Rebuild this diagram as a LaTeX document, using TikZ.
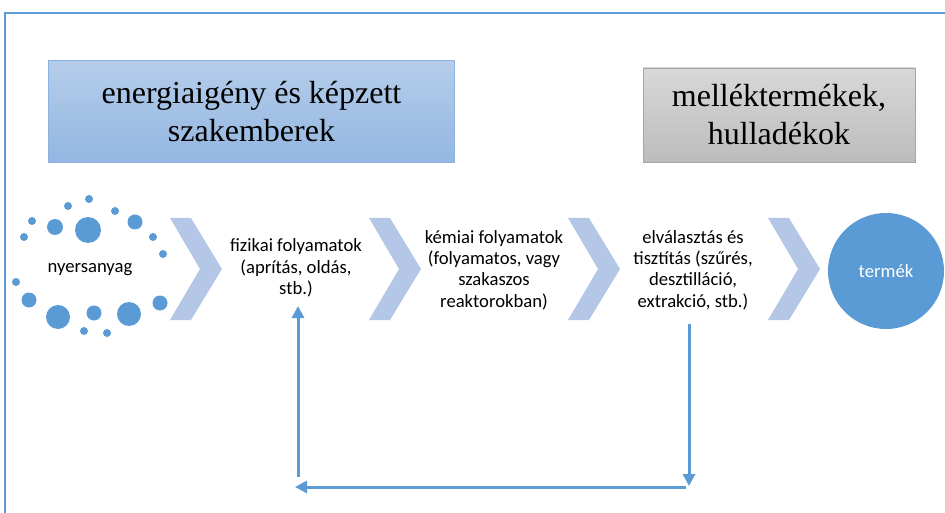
\documentclass[tikz,border=0pt]{standalone}
\usepackage{fontspec}
\setmainfont{Liberation Serif}
\newfontfamily\calfont{Carlito}
\usetikzlibrary{arrows.meta}
\definecolor{accent}{HTML}{5B9BD5}
\definecolor{chevfill}{HTML}{B4C7E7}
\definecolor{bluetop}{HTML}{B5CDEA}
\definecolor{bluebot}{HTML}{93B6E1}
\definecolor{blueedge}{HTML}{8CB3E0}
\definecolor{graytop}{HTML}{D8D8D8}
\definecolor{graybot}{HTML}{BCBCBC}
\definecolor{grayedge}{HTML}{A6A6A6}
\tikzset{
  step text/.style={font=\calfont\fontsize{14}{16}\selectfont, align=center},
  big box/.style={draw, line width=0.7pt, font=\fontsize{24}{28.5}\selectfont, align=center, inner sep=0pt},
  feedback/.style={accent, line width=2.25pt, -{Triangle[length=9pt,width=9pt]}},
  dot/.style={fill=accent},
}
\def\chevron(#1){\fill[chevfill] (#1,218) -- (#1+21,218) -- (#1+52,269) -- (#1+21,320) -- (#1,320) -- (#1+30,269) -- cycle;}

\begin{document}
\begin{tikzpicture}[x=0.75pt, y=-0.75pt]
		%%%%% START %%%%%
		\useasboundingbox (0,0) rectangle (945,513);
		
		\draw[accent, line width=1.1pt] (5,513) -- (5,13) -- (946,13);
		
		% top boxes
		\node[big box, draw=blueedge, top color=bluetop, bottom color=bluebot,
		      minimum width=305pt, minimum height=77pt] (energy) at (251.5,111.5)
		      {energiaigény és képzett\\szakemberek};
		\node[big box, draw=grayedge, top color=graytop, bottom color=graybot,
		      minimum width=204pt, minimum height=70.5pt] (waste) at (779,115)
		      {melléktermékek,\\hulladékok};
		
		% raw material ring
		\fill[dot] (68,206) circle (4);
		\fill[dot] (89,199) circle (4);
		\fill[dot] (115,211) circle (4);
		\fill[dot] (32,221) circle (4);
		\fill[dot] (55,227) circle (8);
		\fill[dot] (88,230) circle (13);
		\fill[dot] (135,222) circle (7.5);
		\fill[dot] (24,237) circle (4);
		\fill[dot] (153,237) circle (4);
		\fill[dot] (163,254) circle (4);
		\fill[dot] (16,282) circle (4);
		\fill[dot] (29,300) circle (7.5);
		\fill[dot] (58,317) circle (12);
		\fill[dot] (94,313) circle (7.5);
		\fill[dot] (129,314) circle (12);
		\fill[dot] (160,303) circle (7.5);
		\fill[dot] (84,331) circle (4);
		\fill[dot] (107,333) circle (4);
		\node[step text] (raw) at (90,270) {nyersanyag};
		
		% chevrons
		\chevron(170)
		\chevron(369)
		\chevron(568)
		\chevron(768)
		
		\node[step text] (phys) at (296,268) {fizikai folyamatok\\(aprítás, oldás,\\stb.)};
		\node[step text] (chem) at (494,270) {kémiai folyamatok\\(folyamatos, vagy\\szakaszos\\reaktorokban)};
		\node[step text] (sep) at (693,270) {elválasztás és\\tisztítás (szűrés,\\desztilláció,\\extrakció, stb.)};
		
		\node[circle, fill=accent, minimum size=87pt, inner sep=0pt, text=white,
		      font=\calfont\fontsize{14}{16}\selectfont] (prod) at (886,271) {termék};
		
		% feedback loop
		\coordinate (dntop) at (689,324);
		\coordinate (dnend) at (689,486);
		\coordinate (lfstart) at (686,487);
		\coordinate (lfend) at (295,487);
		\coordinate (upstart) at (298,477);
		\coordinate (upend) at (298,306);
		\draw[feedback] (dntop) -- (dnend);
		\draw[feedback] (lfstart) -- (lfend);
		\draw[feedback] (upstart) -- (upend);
		
		%%%%% END %%%%%
	\end{tikzpicture}
\end{document}
